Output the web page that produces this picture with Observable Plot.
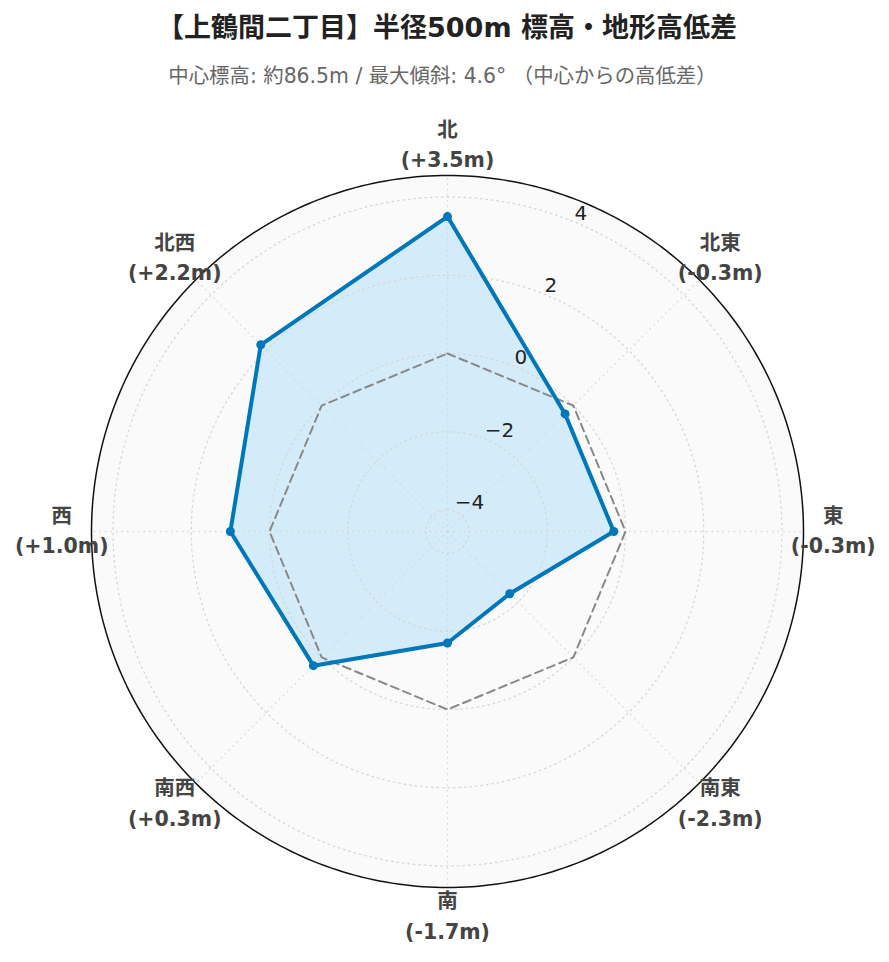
<!DOCTYPE html>
<html><head><meta charset="utf-8">
<script src="https://cdn.jsdelivr.net/npm/d3@7"></script>
<script src="https://cdn.jsdelivr.net/npm/@observablehq/plot@0.6"></script>
<style>
body{margin:0;background:#fff;font-family:"DejaVu Sans","Noto Sans CJK JP",sans-serif;}
#title{position:absolute;left:0;width:894px;top:9px;text-align:center;font-size:27px;line-height:38px;font-weight:bold;color:#222;}
#subtitle{position:absolute;left:0;width:885px;top:63px;text-align:center;font-size:20.4px;line-height:26px;color:#666;}
#chart{position:absolute;left:0;top:100px;}
</style></head><body>
<div id="title">【上鶴間二丁目】半径500m 標高・地形高低差</div>
<div id="subtitle">中心標高: 約86.5m / 最大傾斜: 4.6° （中心からの高低差）</div>
<div id="chart"></div>
<script>
const directions = ["北","北東","東","南東","南","南西","西","北西"];
const angles = [0,45,90,135,180,225,270,315];
const values = [3.5,-0.3,-0.3,-2.3,-1.7,0.3,1.0,2.2];
const valueLabels = ["+3.5m","-0.3m","-0.3m","-2.3m","-1.7m","+0.3m","+1.0m","+2.2m"];
const radialTicks = [-4,-2,0,2,4];
const radialDomain = [-4.55, 4.55];
const tickAngle = 22.5;

const rmin = radialDomain[0];
const rad = a => a * Math.PI / 180;
const px = (v, a) => (v - rmin) * Math.sin(rad(a));
const py = (v, a) => (v - rmin) * Math.cos(rad(a));

const W = 889, H = 862, cx = 447, cy = 431, R = 356;
const s = R / (radialDomain[1] - radialDomain[0]);

const series = directions.map((d, i) => ({dir: d, angle: angles[i], value: values[i], label: valueLabels[i]}));
const circleAngles = d3.range(0, 361, 1);
const gridPts = radialTicks.flatMap(t => circleAngles.map(a => ({t, a})));
const outerPts = circleAngles.map(a => ({a, v: radialDomain[1]}));
const labelR = radialDomain[1] + 0.76;

const chart = Plot.plot({
  width: W, height: H,
  marginLeft: 0, marginRight: 0, marginTop: 0, marginBottom: 0,
  x: {domain: [-cx / s, (W - cx) / s], range: [0, W], axis: null},
  y: {domain: [-(H - cy) / s, cy / s], range: [H, 0], axis: null},
  style: {fontFamily: '"DejaVu Sans","Noto Sans CJK JP",sans-serif', background: "transparent"},
  marks: [
    Plot.line(outerPts, {x: d => px(d.v, d.a), y: d => py(d.v, d.a), fill: "#fafafa", stroke: "none", curve: "linear-closed"}),
    Plot.line(series, {x: d => px(d.value, d.angle), y: d => py(d.value, d.angle), fill: "#d4ecf9", stroke: "none", curve: "linear-closed"}),
    Plot.line(gridPts, {x: d => px(d.t, d.a), y: d => py(d.t, d.a), z: "t", stroke: "#d6d6d6", strokeWidth: 1.3, strokeDasharray: "1.5,4", curve: "linear-closed"}),
    Plot.link(angles, {x1: () => 0, y1: () => 0, x2: a => px(radialDomain[1], a), y2: a => py(radialDomain[1], a), stroke: "#d6d6d6", strokeWidth: 1.3, strokeDasharray: "1.5,4"}),
    Plot.line(angles, {x: a => px(0, a), y: a => py(0, a), stroke: "#888", strokeWidth: 2, strokeDasharray: "8,5", curve: "linear-closed"}),
    Plot.line(series, {x: d => px(d.value, d.angle), y: d => py(d.value, d.angle), stroke: "#0077bb", strokeWidth: 4, strokeLinejoin: "round", curve: "linear-closed"}),
    Plot.dot(series, {x: d => px(d.value, d.angle), y: d => py(d.value, d.angle), fill: "#0077bb", r: 4.5}),
    Plot.line(outerPts, {x: d => px(d.v, d.a), y: d => py(d.v, d.a), stroke: "#111", strokeWidth: 1.5, curve: "linear-closed"}),
    Plot.text(radialTicks, {x: t => px(t, tickAngle), y: t => py(t, tickAngle), text: t => (t < 0 ? "\u2212" + Math.abs(t) : String(t)), textAnchor: "start", dx: -1, dy: -9, fontSize: 20, fill: "#222"}),
    Plot.text(series, {x: d => px(labelR, d.angle), y: d => py(labelR, d.angle), text: d => d.dir + "\n(" + d.label + ")", fontSize: 20.5, fontWeight: "bold", fill: "#444", lineHeight: 1.48, lineAnchor: "middle", dy: -3.5})
  ]
});
document.getElementById("chart").appendChild(chart);
</script>
</body></html>
